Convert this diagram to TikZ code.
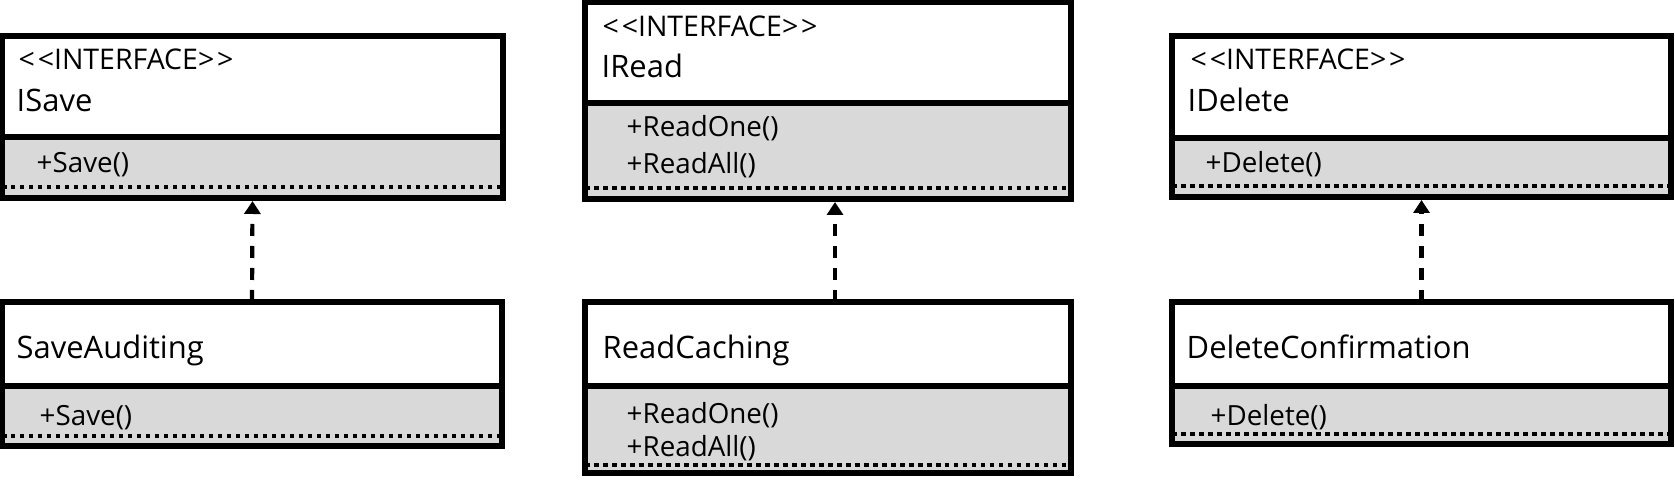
\documentclass[tikz,border=0pt]{standalone}
\usepackage{fontspec}
\setmainfont{Open Sans}
\usetikzlibrary{arrows.meta}
\definecolor{opgray}{HTML}{D9D9D9}
\begin{document}
\begin{tikzpicture}[
        namepart/.style={rectangle, draw, line width=1.45pt, fill=white,
            anchor=north west, inner sep=0pt, outer sep=0pt},
        oppart/.style={rectangle, draw, line width=1.45pt, fill=opgray,
            anchor=north west, inner sep=0pt, outer sep=0pt},
        stereotype/.style={anchor=base west, inner sep=0pt,
            font=\fontsize{8.1}{9}\selectfont},
        clsname/.style={anchor=base west, inner sep=0pt,
            font=\fontsize{8.8}{10}\selectfont},
        opname/.style={anchor=base west, inner sep=0pt,
            font=\fontsize{7.9}{9}\selectfont},
        opsep/.style={line width=1.15pt, dash pattern=on 0.045cm off 0.045cm},
        realizes/.style={-{Triangle[length=0.13cm, width=0.16cm]},
            line width=1.2pt, dash pattern=on 0.12cm off 0.1cm,
            shorten >=0.03cm}
      ]
      \useasboundingbox (0,0) rectangle (16.75,-4.80);
      \node[namepart, minimum width=5.01cm, minimum height=1.01cm]
      (isave) at (0.02,-0.36) {};
      \node[oppart, minimum width=5.01cm, minimum height=0.61cm]
      (isaveops) at (isave.south west) {};
      \node[namepart, minimum width=4.86cm, minimum height=1.01cm]
      (iread) at (5.85,-0.02) {};
      \node[oppart, minimum width=4.86cm, minimum height=0.96cm]
      (ireadops) at (iread.south west) {};
      \node[namepart, minimum width=4.99cm, minimum height=1.02cm]
      (idelete) at (11.72,-0.36) {};
      \node[oppart, minimum width=4.99cm, minimum height=0.59cm]
      (ideleteops) at (idelete.south west) {};
      \node[namepart, minimum width=5.00cm, minimum height=0.84cm]
      (saveaud) at (0.02,-3.02) {};
      \node[oppart, minimum width=5.00cm, minimum height=0.60cm]
      (saveaudops) at (saveaud.south west) {};
      \node[namepart, minimum width=4.86cm, minimum height=0.84cm]
      (readcach) at (5.85,-3.02) {};
      \node[oppart, minimum width=4.86cm, minimum height=0.87cm]
      (readcachops) at (readcach.south west) {};
      \node[namepart, minimum width=4.99cm, minimum height=0.84cm]
      (delconf) at (11.72,-3.02) {};
      \node[oppart, minimum width=4.99cm, minimum height=0.58cm]
      (delconfops) at (delconf.south west) {};
      \draw[opsep] ([yshift=0.11cm]isaveops.south west) -- ([yshift=0.11cm]isaveops.south east);
      \draw[opsep] ([yshift=0.11cm]ireadops.south west) -- ([yshift=0.11cm]ireadops.south east);
      \draw[opsep] ([yshift=0.11cm]ideleteops.south west) -- ([yshift=0.11cm]ideleteops.south east);
      \draw[opsep] ([yshift=0.10cm]saveaudops.south west) -- ([yshift=0.10cm]saveaudops.south east);
      \draw[opsep] ([yshift=0.08cm]readcachops.south west) -- ([yshift=0.08cm]readcachops.south east);
      \draw[opsep] ([yshift=0.10cm]delconfops.south west) -- ([yshift=0.10cm]delconfops.south east);
      \node[stereotype] (isavest) at (0.18,-0.70) {<\kern0.8pt<INTERFACE>\kern0.8pt>};
      \node[clsname] (isavename) at (0.16,-1.12) {ISave};
      \node[opname] (isaveop) at (0.36,-1.73) {+Save()};
      \node[stereotype] (ireadst) at (6.02,-0.37) {<\kern0.8pt<INTERFACE>\kern0.8pt>};
      \node[clsname] (ireadname) at (6.01,-0.78) {IRead};
      \node[opname] (ireadopa) at (6.26,-1.37) {+ReadOne()};
      \node[opname] (ireadopb) at (6.26,-1.74) {+ReadAll()};
      \node[stereotype] (ideletest) at (11.90,-0.70) {<\kern0.8pt<INTERFACE>\kern0.8pt>};
      \node[clsname] (ideletename) at (11.87,-1.12) {IDelete};
      \node[opname] (ideleteop) at (12.05,-1.73) {+Delete()};
      \node[clsname] (saveaudname) at (0.16,-3.59) {SaveAuditing};
      \node[opname] (saveaudop) at (0.39,-4.26) {+Save()};
      \node[clsname] (readcachname) at (6.02,-3.59) {ReadCaching};
      \node[opname] (readcachopa) at (6.26,-4.24) {+ReadOne()};
      \node[opname] (readcachopb) at (6.26,-4.57) {+ReadAll()};
      \node[clsname] (delconfname) at (11.86,-3.59) {DeleteConfirmation};
      \node[opname] (delconfop) at (12.10,-4.26) {+Delete()};
      \draw[realizes] (saveaud.north) -- (isaveops.south);
      \draw[realizes] ([xshift=0.07cm]readcach.north) -- ([xshift=0.07cm]ireadops.south);
      \draw[realizes] (delconf.north) -- (ideleteops.south);
    \end{tikzpicture}
\end{document}
